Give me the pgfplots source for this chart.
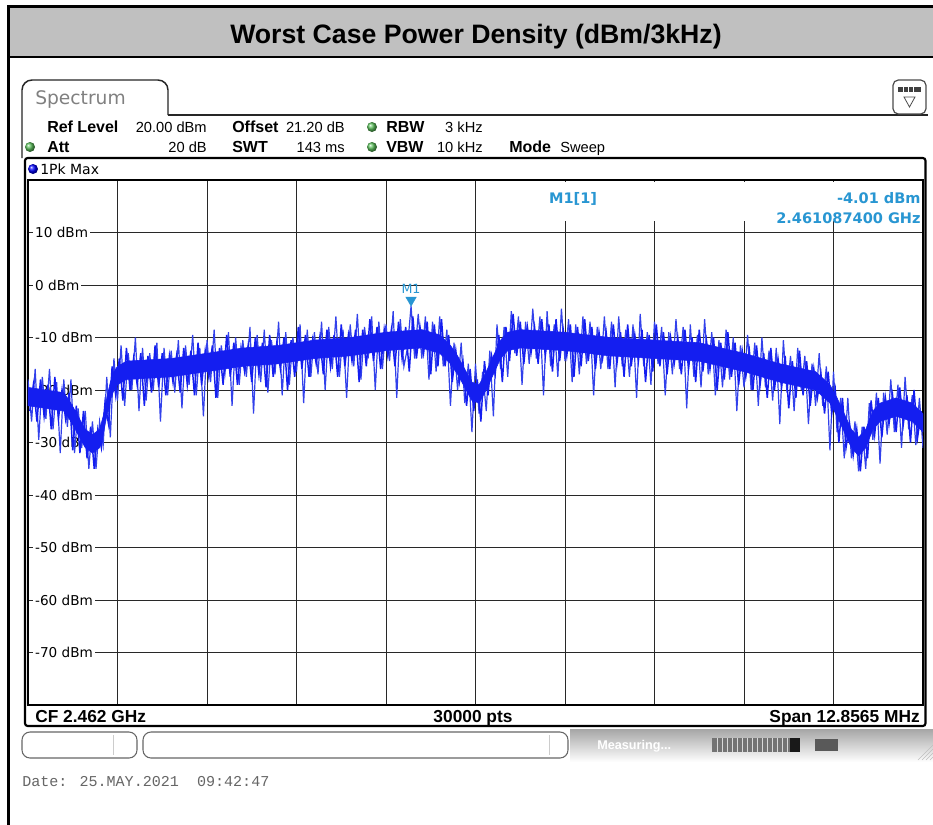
\documentclass[border=0pt]{standalone}
\usepackage{pgfplots}
\pgfplotsset{compat=1.18}
\usepackage{fontspec}
\setmainfont{DejaVu Sans}
\newfontfamily\arialf{Liberation Sans}
\newfontfamily\monof{Liberation Mono}
\definecolor{tblue}{RGB}{20,30,240}
\definecolor{sblue}{RGB}{50,65,235}
\definecolor{mcol}{RGB}{40,150,210}
\definecolor{titlegray}{RGB}{192,192,192}
\definecolor{dotgreen}{RGB}{90,190,90}
\definecolor{gridc}{RGB}{40,40,40}
\begin{document}
\begin{tikzpicture}
\begin{scope}[x=0.75pt,y=-0.75pt]
\path[use as bounding box] (0,0) rectangle (933,825);
\fill[white] (0,0) rectangle (933,825);
% title band
\fill[titlegray] (9,7) rectangle (933,57);
\draw[line width=2.25pt] (8.5,825) -- (8.5,6.5) -- (933,6.5);
\draw[line width=1.5pt] (9,57) -- (933,57);
\node[font=\arialf\bfseries\fontsize{20}{24}\selectfont, anchor=base, inner sep=0pt] at (476,43) {Worst Case Power Density (dBm/3kHz)};
% tab
\draw[line width=1.1pt, black!85, rounded corners=7.5pt] (22,158) -- (22,80) -- (168,80) -- (168,115);
\draw[line width=1.1pt, black!85] (167.6,115) -- (928,115);
\node[font=\fontsize{14}{16}\selectfont, text=black!50, anchor=base west, inner sep=0pt] at (35,104) {Spectrum};
% icon box
\draw[line width=0.9pt, black!70, rounded corners=4pt] (893,80) rectangle (926,114);
\fill[black!75] (898,87) rectangle (921,92);
\draw[white, line width=0.5pt] (903,87) -- (903,92) (908,87) -- (908,92) (913,87) -- (913,92);
\draw[black!70, line width=0.6pt] (904,97) -- (915,97) -- (909.5,107) -- cycle;
% info rows
\begin{scope}[every node/.style={inner sep=0pt, font=\arialf\fontsize{11}{13}\selectfont}]
\node[anchor=base west, font=\arialf\bfseries\fontsize{12}{14}\selectfont] at (47,132) {Ref Level};
\node[anchor=base east] at (207,132) {20.00 dBm};
\node[anchor=base west, font=\arialf\bfseries\fontsize{12}{14}\selectfont] at (232,132) {Offset};
\node[anchor=base east] at (345,132) {21.20 dB};
\node[anchor=base west, font=\arialf\bfseries\fontsize{12}{14}\selectfont] at (386,132) {RBW};
\node[anchor=base east] at (483,132) {3 kHz};
\node[anchor=base west, font=\arialf\bfseries\fontsize{12}{14}\selectfont] at (47,152) {Att};
\node[anchor=base east] at (207,152) {20 dB};
\node[anchor=base west, font=\arialf\bfseries\fontsize{12}{14}\selectfont] at (232,152) {SWT};
\node[anchor=base east] at (345,152) {143 ms};
\node[anchor=base west, font=\arialf\bfseries\fontsize{12}{14}\selectfont] at (386,152) {VBW};
\node[anchor=base east] at (483,152) {10 kHz};
\node[anchor=base west, font=\arialf\bfseries\fontsize{12}{14}\selectfont] at (509,152) {Mode};
\node[anchor=base west] at (560,152) {Sweep};
\end{scope}
\shade[ball color=dotgreen] (372,127) circle (5);
\shade[ball color=dotgreen] (372,147) circle (5);
\shade[ball color=dotgreen] (30,147) circle (5);
% trace window
\draw[line width=1.6pt, rounded corners=2pt] (25,158) rectangle (925.5,726);
\shade[ball color=blue] (33,169) circle (5);
\node[font=\fontsize{10.5}{12}\selectfont, anchor=base west, inner sep=0pt] at (40,174) {1Pk Max};
% footer
\node[font=\arialf\bfseries\fontsize{13}{15}\selectfont, anchor=base west, inner sep=0pt] at (35,722) {CF 2.462 GHz};
\node[font=\arialf\bfseries\fontsize{13}{15}\selectfont, anchor=base, inner sep=0pt] at (473,722) {30000 pts};
\node[font=\arialf\bfseries\fontsize{13}{15}\selectfont, anchor=base east, inner sep=0pt] at (920,722) {Span 12.8565 MHz};
% status bar
\shade[top color=black!35, bottom color=white] (570,729) rectangle (933,762);
\draw[black!60, line width=0.8pt, rounded corners=6pt] (22,732) rectangle (137,758);
\draw[black!20, line width=0.6pt] (113,735) -- (113,755);
\draw[black!60, line width=0.8pt, rounded corners=6pt] (143,732) rectangle (568,758);
\draw[black!20, line width=0.6pt] (549,735) -- (549,755);
\node[font=\arialf\bfseries\fontsize{9.5}{11}\selectfont, text=white, anchor=base west, inner sep=0pt] at (597,749) {Measuring...};
\fill[black!55] (712,738) rectangle (790,752);
\foreach \s in {717,722,...,787} \draw[white!70!gray, line width=0.4pt] (\s,738) -- (\s,752);
\fill[black!90] (790,738) rectangle (800,752);
\fill[black!65] (815,739) rectangle (838,751);
\foreach \s in {0,4,8,12} \draw[black!25, line width=0.4pt] (918+\s,760) -- (933,760-15+\s);
% date
\node[font=\monof\fontsize{11.3}{13}\selectfont, text=black!60, anchor=base west, inner sep=0pt] at (22,786) {Date: 25.MAY.2021\ \ 09:42:47};
\end{scope}
\begin{axis}[at={(21pt,-135pt)}, anchor=north west, scale only axis,
  width=671.25pt, height=393.75pt,
  xmin=0, xmax=10, ymin=-80, ymax=20,
  xtick={0,1,...,10}, ytick={-80,-70,...,20},
  xticklabels={}, yticklabels={}, major tick length=0pt,
  grid=major, major grid style={gridc, line width=0.75pt},
  axis line style={black, line width=0.9pt}, clip=true]
\fill[white] (axis cs:5.55,19.6) rectangle (axis cs:9.985,12.2);
\foreach \v in {10,0,-10,-20,-30,-40,-50,-60,-70}{
  \edef\temp{\noexpand\node[fill=white, inner sep=1.5pt, anchor=west, font=\noexpand\fontsize{10.2}{12}\noexpand\selectfont] at (axis cs:0.055,\v) {\v\ dBm};}
  \temp
}
\node[text=mcol, font=\bfseries\fontsize{10.9}{13}\selectfont, anchor=base, inner sep=0pt] at (axis cs:6.09,15.5) {M1[1]};
\node[text=mcol, font=\bfseries\fontsize{10.9}{13}\selectfont, anchor=base east, inner sep=0pt] at (axis cs:9.976,15.5) {-4.01 dBm};
\node[text=mcol, font=\bfseries\fontsize{10.9}{13}\selectfont, anchor=base east, inner sep=0pt] at (axis cs:9.976,11.7) {2.461087400 GHz};
% trace: spikes (even samples)
\addplot[sblue, line width=0.9pt] table[row sep=\\, x expr=\coordindex*0.04, y=y] {y\\
-18\\ -26\\ -16\\ -29.5\\ -17.5\\ -25.5\\ -16\\ -27.5\\ -18.5\\ -32\\
-18\\ -27\\ -18\\ -32\\ -23.5\\ -31\\ -24\\ -35\\ -26\\ -35\\
-26\\ -30.5\\ -17.5\\ -29\\ -14\\ -22\\ -11.5\\ -23\\ -13\\ -20\\
-10\\ -24\\ -12\\ -22\\ -13\\ -20\\ -11\\ -26\\ -12\\ -21\\
-12.5\\ -20.5\\ -10.5\\ -23.5\\ -11.5\\ -19\\ -9.5\\ -21\\ -12\\ -25\\
-10.5\\ -18.5\\ -8.5\\ -21.5\\ -11.5\\ -17\\ -9\\ -23\\ -10\\ -19\\
-10.5\\ -17.5\\ -8\\ -24.5\\ -9.5\\ -18.5\\ -8.5\\ -20.5\\ -10.5\\ -17\\
-7\\ -21\\ -9\\ -19\\ -10\\ -16.5\\ -7.5\\ -22.5\\ -8.5\\ -17.5\\
-9\\ -17\\ -7\\ -20\\ -8\\ -16\\ -6\\ -17.5\\ -8.5\\ -21.5\\
-7.5\\ -15.5\\ -5.5\\ -18\\ -8\\ -14\\ -6\\ -20\\ -7\\ -16\\
-7.5\\ -14.5\\ -5\\ -21.5\\ -6.5\\ -15.5\\ -12\\ -4\\ -14\\ -5.5\\
-14\\ -6\\ -18\\ -7\\ -16.5\\ -6\\ -15.5\\ -8.5\\ -23\\ -11\\
-20\\ -11\\ -22.5\\ -15\\ -28\\ -15\\ -24.5\\ -16.5\\ -24\\ -12.5\\
-25\\ -7.5\\ -16\\ -8\\ -17.5\\ -5\\ -13\\ -6\\ -19\\ -7\\
-15\\ -4.5\\ -14\\ -6\\ -21\\ -5\\ -15.5\\ -7.5\\ -17.5\\ -4.5\\
-14.5\\ -6.5\\ -18.5\\ -7.5\\ -17\\ -6\\ -15\\ -7\\ -21\\ -8\\
-16\\ -6\\ -16\\ -7\\ -19.5\\ -6\\ -15.5\\ -8.5\\ -17.5\\ -7.5\\
-21.5\\ -5.5\\ -15.5\\ -9\\ -19\\ -7\\ -15\\ -8\\ -21\\ -9\\
-17\\ -6.5\\ -16\\ -8\\ -23.5\\ -7.5\\ -17.5\\ -9.5\\ -19.5\\ -6.5\\
-17\\ -9\\ -21\\ -10.5\\ -19.5\\ -8.5\\ -18\\ -10\\ -24\\ -11.5\\
-19.5\\ -9.5\\ -20\\ -11\\ -23\\ -10\\ -19.5\\ -12.5\\ -22\\ -12\\
-26.5\\ -10.5\\ -20.5\\ -13.5\\ -24\\ -12\\ -20\\ -13.5\\ -26.5\\ -15\\
-23\\ -13\\ -23\\ -15.5\\ -31.5\\ -16.5\\ -28\\ -21.5\\ -33\\ -21.5\\
-33\\ -26\\ -35.5\\ -27\\ -35\\ -22.5\\ -29.5\\ -20.5\\ -34\\ -20.5\\
-28.5\\ -18\\ -28\\ -19\\ -31\\ -17.5\\ -27.5\\ -21\\ -30.5\\ -21.5\\
-31\\
};
% trace: odd samples
\addplot[tblue, line width=1.1pt] table[row sep=\\, x expr=\coordindex*0.04+0.02, y=y] {y\\
-24\\ -19\\ -26\\ -18\\ -25\\ -19\\ -27.5\\ -17.5\\ -25.5\\ -20\\
-25.5\\ -20.5\\ -31.5\\ -23\\ -32\\ -24\\ -33\\ -27\\ -35\\ -27.5\\
-31\\ -22.5\\ -26.5\\ -15.5\\ -21\\ -14\\ -22\\ -12\\ -20\\ -14\\
-19\\ -13\\ -23\\ -13.5\\ -20.5\\ -11.5\\ -19.5\\ -13\\ -21\\ -13.5\\
-18.5\\ -13.5\\ -20.5\\ -12\\ -19\\ -12.5\\ -21\\ -11\\ -19\\ -12.5\\
-17.5\\ -11.5\\ -21.5\\ -12\\ -19\\ -9.5\\ -17.5\\ -11\\ -19\\ -12\\
-16.5\\ -11.5\\ -18.5\\ -10\\ -17\\ -11\\ -19.5\\ -9.5\\ -17.5\\ -11\\
-16\\ -10\\ -20\\ -10.5\\ -17.5\\ -8\\ -16\\ -9.5\\ -17.5\\ -10.5\\
-15\\ -10\\ -17\\ -8.5\\ -15.5\\ -9.5\\ -17.5\\ -7.5\\ -15.5\\ -9.5\\
-14.5\\ -8.5\\ -18.5\\ -8.5\\ -15.5\\ -6.5\\ -14.5\\ -8\\ -16\\ -8.5\\
-13.5\\ -8.5\\ -15.5\\ -7\\ -14\\ -8\\ -16.5\\ -6\\ -14\\ -8\\
-13\\ -7\\ -17\\ -7.5\\ -15.5\\ -6.5\\ -15.5\\ -9.5\\ -18.5\\ -12.5\\
-18.5\\ -14.5\\ -23\\ -16\\ -24\\ -18\\ -26\\ -14.5\\ -21\\ -13.5\\
-17\\ -9.5\\ -18.5\\ -8\\ -14.5\\ -5.5\\ -13.5\\ -7\\ -15\\ -8\\
-13\\ -8\\ -15\\ -6.5\\ -13.5\\ -7.5\\ -16.5\\ -6.5\\ -14.5\\ -8.5\\
-13.5\\ -7.5\\ -17.5\\ -8\\ -15.5\\ -6.5\\ -14.5\\ -8\\ -16\\ -9\\
-14\\ -9\\ -16\\ -7.5\\ -15\\ -9\\ -17.5\\ -7.5\\ -15.5\\ -9.5\\
-14.5\\ -8.5\\ -18.5\\ -9.5\\ -16.5\\ -7.5\\ -15.5\\ -9\\ -17\\ -10\\
-15\\ -10\\ -17\\ -8.5\\ -16\\ -10\\ -18.5\\ -8.5\\ -16.5\\ -10.5\\
-16\\ -10\\ -20\\ -11\\ -18\\ -9\\ -17.5\\ -11\\ -19\\ -12.5\\
-17.5\\ -12.5\\ -20\\ -11.5\\ -19\\ -13\\ -21.5\\ -12\\ -20\\ -14\\
-19.5\\ -13.5\\ -23.5\\ -14.5\\ -21.5\\ -12.5\\ -21\\ -14.5\\ -23\\ -16\\
-21.5\\ -17\\ -24.5\\ -16.5\\ -24.5\\ -20\\ -30\\ -21.5\\ -31\\ -26.5\\
-32.5\\ -27.5\\ -35.5\\ -27\\ -33\\ -22\\ -28.5\\ -21.5\\ -29\\ -21.5\\
-26.5\\ -21\\ -28\\ -19.5\\ -26.5\\ -21\\ -30\\ -20\\ -29\\ -24\\
};
% core band
\addplot[fill=tblue, draw=tblue, line width=0.4pt] coordinates {
(0,-19.5) (0.2,-20) (0.4,-20.5) (0.48,-22.5) (0.56,-25) (0.64,-27.5) (0.72,-28.5) (0.8,-27.5) (0.84,-25) (0.88,-21.5) (0.92,-18.5) (0.96,-16.5) (1.0,-15.5) (1.1,-14.5) (1.6,-14) (2.0,-13) (2.4,-12) (2.8,-11.5) (3.2,-10.5) (3.6,-10) (4.0,-9) (4.4,-8.5) (4.6,-9.5) (4.72,-11.5) (4.8,-13.5) (4.88,-16) (4.96,-18.5) (5.04,-19) (5.12,-16.5) (5.2,-13.5) (5.28,-10.5) (5.36,-9) (5.5,-8.5) (6.0,-9) (6.5,-10) (7.0,-10.5) (7.5,-11) (8.0,-13) (8.4,-15) (8.8,-16.5) (8.96,-19) (9.04,-21.5) (9.12,-24.5) (9.2,-27.5) (9.28,-29) (9.36,-27.5) (9.44,-24) (9.52,-22.5) (9.7,-21.5) (9.88,-22.5) (10,-24.5)
(10,-28) (9.88,-26) (9.7,-25) (9.52,-26) (9.44,-27.5) (9.36,-31) (9.28,-32.5) (9.2,-31) (9.12,-28) (9.04,-25) (8.96,-22.5) (8.8,-20) (8.4,-18.5) (8.0,-16.5) (7.5,-14.5) (7.0,-14) (6.5,-13.5) (6.0,-12.5) (5.5,-12) (5.36,-12.5) (5.28,-14) (5.2,-17) (5.12,-20) (5.04,-22.5) (4.96,-22) (4.88,-19.5) (4.8,-17) (4.72,-15) (4.6,-13) (4.4,-12) (4.0,-12.5) (3.6,-13.5) (3.2,-14) (2.8,-15) (2.4,-15.5) (2.0,-16.5) (1.6,-17.5) (1.1,-18) (1.0,-19) (0.96,-20) (0.92,-22) (0.88,-25) (0.84,-28.5) (0.8,-31) (0.72,-32) (0.64,-31) (0.56,-28.5) (0.48,-26) (0.4,-24) (0.2,-23.5) (0,-23)
} -- cycle;
% marker
\addplot[only marks, mark=triangle*, color=mcol, mark size=4.5pt, mark options={yshift=4.5pt, rotate=180}] coordinates {(4.28,-4.01)};
\node[text=mcol, font=\fontsize{9.5}{11}\selectfont, anchor=base, inner sep=0pt, yshift=9.75pt] at (axis cs:4.28,-4.01) {M1};
\end{axis}
\end{tikzpicture}
\end{document}
